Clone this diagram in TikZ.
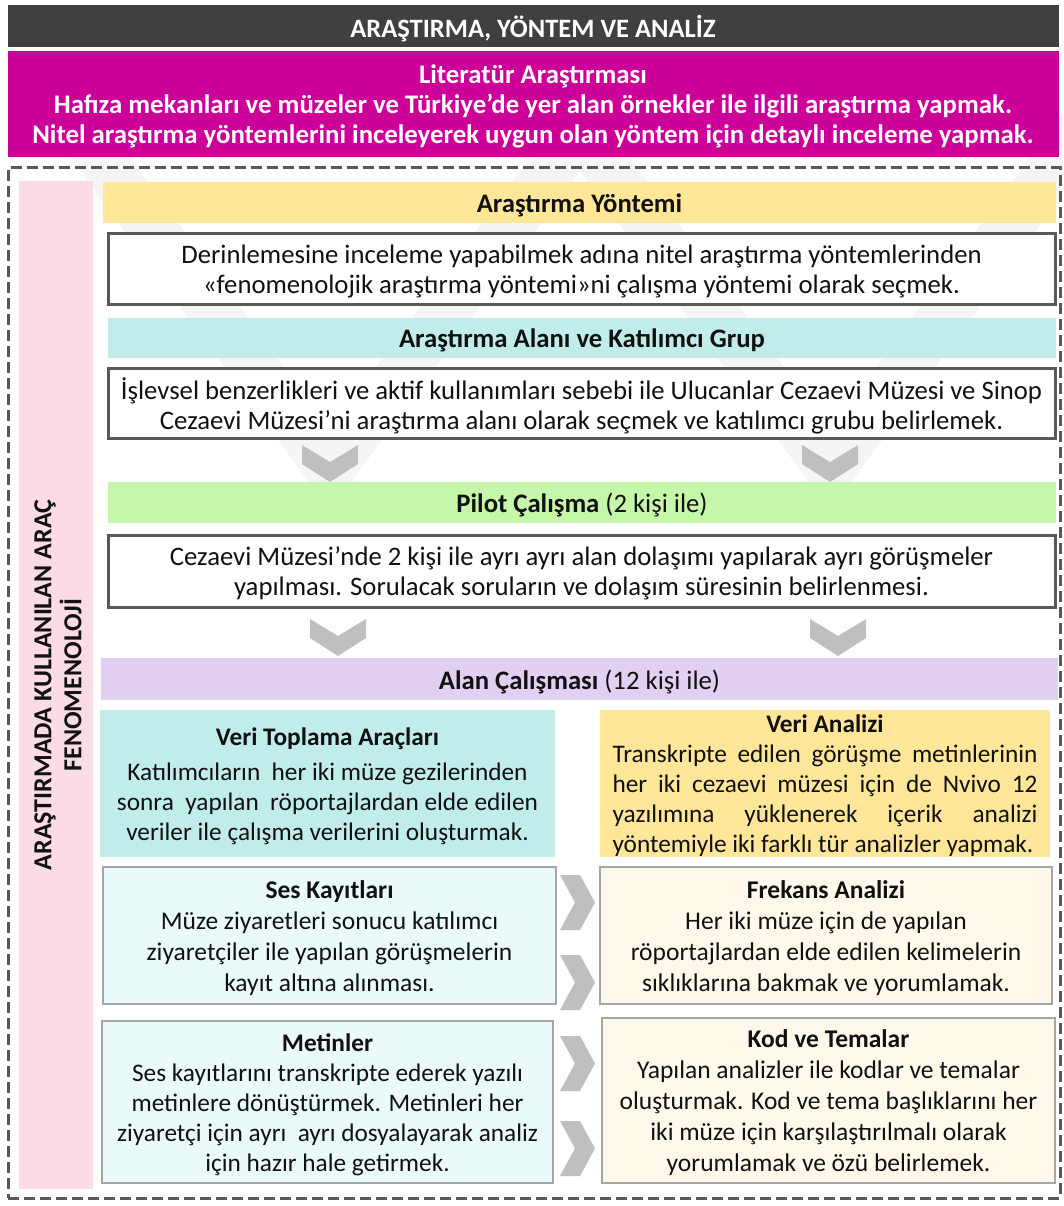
\documentclass[tikz,border=0pt]{standalone}
\usepackage{fontspec}
\setmainfont{Carlito}
\definecolor{darkbar}{HTML}{404040}
\definecolor{magbar}{HTML}{CC0099}
\definecolor{framegray}{HTML}{595959}
\definecolor{pinkbar}{HTML}{FCDCE4}
\definecolor{yelbar}{HTML}{FFE699}
\definecolor{cyanbar}{HTML}{C0ECEA}
\definecolor{greenbar}{HTML}{C6F6AA}
\definecolor{purpbar}{HTML}{E1D0F1}
\definecolor{lightcyan}{HTML}{EAF9F9}
\definecolor{cream}{HTML}{FFF8EB}
\definecolor{chevgray}{HTML}{BFBFBF}
\definecolor{boxline}{HTML}{A6A6A6}
\definecolor{txt}{HTML}{111111}
\newcommand\fbody{\fontsize{26.7}{30}\selectfont}
\newcommand\fhead{\fontsize{26.7}{30}\selectfont}
\newcommand\flow{\fontsize{25.3}{30}\selectfont}
\newcommand\flowb{\fontsize{25.5}{31}\selectfont}
\newcommand\dchev[2]{\fill[chevgray] (#1-28,#2) -- (#1,#2+17) -- (#1+28,#2) -- (#1+28,#2+19) -- (#1,#2+37) -- (#1-28,#2+19) -- cycle;}
\newcommand\rchev[2]{\fill[chevgray] (#1,#2) -- (#1+20,#2) -- (#1+35,#2+27.5) -- (#1+20,#2+55) -- (#1,#2+55) -- (#1+15,#2+27.5) -- cycle;}
\begin{document}
\begin{tikzpicture}[x=1pt,y=-1pt,
  shape/.style={inner sep=0pt},
  bar/.style={draw=none, inner sep=0pt},
  whitebox/.style={draw=framegray, line width=3pt, fill=white, inner sep=0pt},
  lowbox/.style={draw=boxline, line width=1.5pt, inner sep=0pt},
  tx/.style={inner sep=0pt, text=txt, align=center, yshift=-2.5pt, font=\fbody},
  wm/.style={line width=48pt, color=black!4, line join=miter}
]
\useasboundingbox (0,0) rectangle (1063,1206);
\fill[white] (0,0) rectangle (1063,1206);
% faint watermark
\begin{scope}
\clip (0,0) rectangle (1063,1206);
\draw[wm] (80,130) -- (330,470) -- (580,130);
\draw[wm] (580,130) -- (830,470) -- (1080,130);
\end{scope}
% title
\node[bar, fill=darkbar, minimum width=1051, minimum height=42] (title) at (533,26) {};
\node[tx, text=white, font=\fontsize{26.5}{30}\selectfont\bfseries] (titlet) at (title.center) {ARAŞTIRMA, YÖNTEM VE ANALİZ};
\node[bar, fill=magbar, minimum width=1051, minimum height=106] (lit) at (533,104) {};
\node[tx, text=white, font=\fontsize{26.8}{30}\selectfont\bfseries] (litt) at (lit.center) {Literatür Araştırması\\Hafıza mekanları ve müzeler ve Türkiye’de yer alan örnekler ile ilgili araştırma yapmak.\\Nitel araştırma yöntemlerini inceleyerek uygun olan yöntem için detaylı inceleme yapmak.};
% dashed frame
\node[draw=framegray, line width=3pt, dash pattern=on 11pt off 5pt, minimum width=1052, minimum height=1030, inner sep=0pt] (frame) at (534,683) {};
% pink side bar
\node[fill=pinkbar, minimum width=74, minimum height=1008, inner sep=0pt] (side) at (56,685) {};
\node[rotate=90, inner sep=0pt, text=txt, font=\fontsize{26}{30}\selectfont\bfseries, align=center] (sidetxt) at (58,685) {ARAŞTIRMADA KULLANILAN ARAÇ\\FENOMENOLOJİ};
% stages
\node[bar, fill=yelbar, minimum width=953, minimum height=41] (yontem) at (579.5,202.5) {};
\node[tx, font=\fhead\bfseries] (yontemt) at (yontem.center) {Araştırma Yöntemi};
\node[whitebox, minimum width=947, minimum height=70] (box1) at (581.5,269) {};
\node[tx] (box1t) at (box1.center) {Derinlemesine inceleme yapabilmek adına nitel araştırma yöntemlerinden\\«fenomenolojik araştırma yöntemi»ni çalışma yöntemi olarak seçmek.};
\node[bar, fill=cyanbar, minimum width=948, minimum height=40] (alan) at (582,338) {};
\node[tx, font=\fhead\bfseries] (alant) at (alan.center) {Araştırma Alanı ve Katılımcı Grup};
\node[whitebox, minimum width=947, minimum height=70] (box2) at (581.5,403) {};
\node[tx] (box2t) at (box2.center) {İşlevsel benzerlikleri ve aktif kullanımları sebebi ile Ulucanlar Cezaevi Müzesi ve Sinop\\Cezaevi Müzesi’ni araştırma alanı olarak seçmek ve katılımcı grubu belirlemek.};
\dchev{330}{445}
\dchev{830}{445}
\node[bar, fill=greenbar, minimum width=948, minimum height=41] (pilot) at (582,502.5) {};
\node[tx, font=\fhead] (pilott) at (pilot.center) {\textbf{Pilot Çalışma} (2 kişi ile)};
\node[whitebox, minimum width=947, minimum height=72] (box3) at (581.5,571) {};
\node[tx] (box3t) at (box3.center) {Cezaevi Müzesi’nde 2 kişi ile ayrı ayrı alan dolaşımı yapılarak ayrı görüşmeler\\yapılması. Sorulacak soruların ve dolaşım süresinin belirlenmesi.};
\dchev{338}{619}
\dchev{838}{619}
\node[bar, fill=purpbar, minimum width=957, minimum height=42] (saha) at (579.5,679) {};
\node[tx, font=\fhead] (sahat) at (saha.center) {\textbf{Alan Çalışması} (12 kişi ile)};
% lower part
\node[bar, fill=cyanbar, minimum width=455, minimum height=147] (toplama) at (327.5,783.5) {};
\node[tx, font=\flow] (toplamat) at (toplama.center) {\textbf{Veri Toplama Araçları}\\[5pt]Katılımcıların \ her iki müze gezilerinden\\sonra \ yapılan \ röportajlardan elde edilen\\veriler ile çalışma verilerini oluşturmak.};
\node[bar, fill=yelbar, minimum width=450, minimum height=147] (analiz) at (825,783.5) {};
\node[tx, font=\flow] (analizt) at (analiz.center) {\textbf{Veri Analizi}\\\makebox[425pt][s]{Transkripte edilen görüşme metinlerinin}\\\makebox[425pt][s]{her iki cezaevi müzesi için de Nvivo 12}\\\makebox[425pt][s]{yazılımına yüklenerek içerik analizi}\\\makebox[425pt][l]{yöntemiyle iki farklı tür analizler yapmak.}};
\node[lowbox, fill=lightcyan, minimum width=453, minimum height=137] (ses) at (329.5,935.5) {};
\node[tx, font=\flowb] (sest) at (ses.center) {\textbf{Ses Kayıtları}\\Müze ziyaretleri sonucu katılımcı\\ziyaretçiler ile yapılan görüşmelerin\\kayıt altına alınması.};
\node[lowbox, fill=cream, minimum width=452, minimum height=137] (frekans) at (826,935.5) {};
\node[tx, font=\flowb] (frekanst) at (frekans.center) {\textbf{Frekans Analizi}\\Her iki müze için de yapılan\\röportajlardan elde edilen kelimelerin\\sıklıklarına bakmak ve yorumlamak.};
\node[lowbox, fill=lightcyan, minimum width=451, minimum height=162] (metin) at (327.5,1102) {};
\node[tx, font=\flow] (metint) at (metin.center) {\textbf{Metinler}\\Ses kayıtlarını transkripte ederek yazılı\\metinlere dönüştürmek. Metinleri her\\ziyaretçi için ayrı \ ayrı dosyalayarak analiz\\için hazır hale getirmek.};
\node[lowbox, fill=cream, minimum width=453, minimum height=165] (kod) at (828.5,1100.5) {};
\node[tx, font=\flowb] (kodt) at (kod.center) {\textbf{Kod ve Temalar}\\Yapılan analizler ile kodlar ve temalar\\oluşturmak. Kod ve tema başlıklarını her\\iki müze için karşılaştırılmalı olarak\\yorumlamak ve özü belirlemek.};
\rchev{560}{875}
\rchev{560}{955}
\rchev{560}{1036}
\rchev{560}{1121}
\end{tikzpicture}
\end{document}
